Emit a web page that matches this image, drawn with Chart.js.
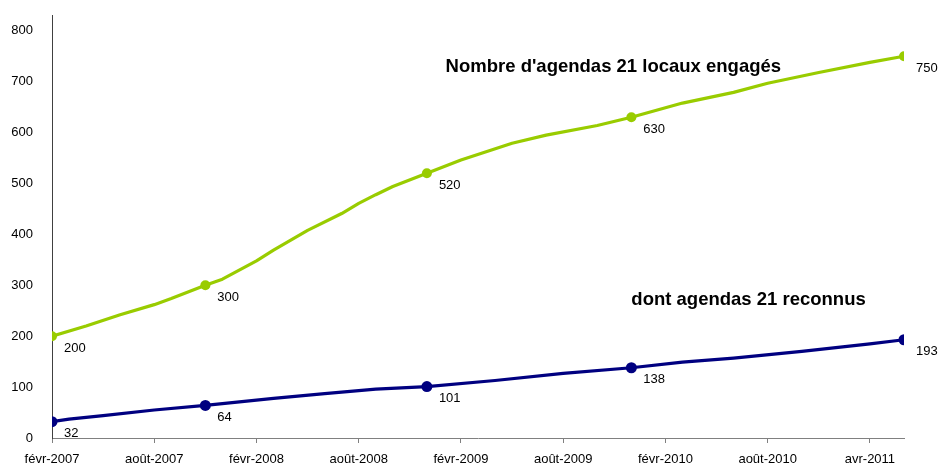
<!DOCTYPE html>
<html>
<head>
<meta charset="utf-8">
<script src="https://cdn.jsdelivr.net/npm/chart.js@4/dist/chart.umd.min.js"></script>
<style>
  html, body { margin: 0; padding: 0; background: #fff; }
  #wrap { width: 938px; height: 463px; }
</style>
</head>
<body>
<div id="wrap"><canvas id="chart"></canvas></div>
<script>
// months counted from févr-2007
const tickMonths = [0, 6, 12, 18, 24, 30, 36, 42, 48];
const tickLabels = ["févr-2007", "août-2007", "févr-2008", "août-2008", "févr-2009", "août-2009", "févr-2010", "août-2010", "avr-2011"];
const yTicks = [0, 100, 200, 300, 400, 500, 600, 700, 800];

const monthsEngages = [0, 2, 4, 6, 7, 9, 10, 12, 13, 15, 17, 18, 19, 20, 22, 24, 27, 29, 32, 34, 37, 40, 42, 45, 48, 50];
const valuesEngages = [200, 220, 242, 262, 274, 300, 312, 348, 369, 408, 441, 461, 478, 494, 520, 546, 579, 595, 614, 630, 658, 679, 697, 718, 738, 750];

const monthsReconnus = [0, 1, 3, 6, 9, 13, 16, 19, 22, 26, 30, 34, 37, 40, 44, 48, 50];
const valuesReconnus = [32, 37, 44, 55, 64, 78, 87, 96, 101, 113, 127, 138, 149, 157, 170, 185, 193];

const labeledMonths = [0, 9, 22, 34, 50];

function toPoints(xs, ys){
    return xs.map((x, i) => ({x: x, y: ys[i]}));
}

const valueLabels = {
    id: 'valueLabels',
    afterDatasetsDraw(chart){
        const c = chart.ctx;
        c.save();
        c.font = '13px "Liberation Sans", Arial, sans-serif';
        c.fillStyle = '#000';
        c.textAlign = 'left';
        c.textBaseline = 'middle';
        chart.data.datasets.forEach((ds, di) => {
            const meta = chart.getDatasetMeta(di);
            ds.data.forEach((p, i) => {
                if (!labeledMonths.includes(p.x)) return;
                const el = meta.data[i];
                c.fillText(String(p.y), el.x + 12, el.y + 12);
            });
        });
        // series titles
        const xs = chart.scales.x, ys = chart.scales.y;
        c.font = 'bold 18.5px "Liberation Sans", Arial, sans-serif';
        c.fillText("Nombre d'agendas 21 locaux engagés", xs.getPixelForValue(23.1), ys.getPixelForValue(729));
        c.fillText("dont agendas 21 reconnus", xs.getPixelForValue(34), ys.getPixelForValue(271));
        c.restore();
    }
};

Chart.defaults.font.family = '"Liberation Sans", Arial, sans-serif';
Chart.defaults.font.size = 13;
Chart.defaults.color = '#000';

new Chart(document.getElementById('chart').getContext('2d'), {
    type: 'line',
    data: {
        datasets: [
            {
                label: "Nombre d'agendas 21 locaux engagés",
                data: toPoints(monthsEngages, valuesEngages),
                borderColor: '#99CC00',
                backgroundColor: '#99CC00',
                borderWidth: 3.2,
                borderJoinStyle: 'round',
                pointRadius: ctx => labeledMonths.includes(ctx.raw.x) ? 5 : 0,
                pointBorderWidth: 0,
                tension: 0
            },
            {
                label: "dont agendas 21 reconnus",
                data: toPoints(monthsReconnus, valuesReconnus),
                borderColor: '#000080',
                backgroundColor: '#000080',
                borderWidth: 3.2,
                borderJoinStyle: 'round',
                pointRadius: ctx => labeledMonths.includes(ctx.raw.x) ? 5.5 : 0,
                pointBorderWidth: 0,
                tension: 0
            }
        ]
    },
    options: {
        responsive: true,
        maintainAspectRatio: false,
        animation: false,
        layout: { padding: { top: 15, right: 34, left: 0, bottom: 0 } },
        plugins: {
            legend: { display: false },
            tooltip: { enabled: false }
        },
        scales: {
            x: {
                type: 'linear',
                min: 0,
                max: 50,
                afterBuildTicks: (s) => { s.ticks = tickMonths.map(v => ({value: v})); },
                afterFit: (s) => { s.height = 25; },
                ticks: {
                    autoSkip: false,
                    maxRotation: 0,
                    padding: 9,
                    callback: (v) => tickLabels[tickMonths.indexOf(v)]
                },
                grid: { drawOnChartArea: false, drawTicks: true, tickLength: 5, color: '#808080' },
                border: { display: true, color: '#808080', width: 1 }
            },
            y: {
                min: 0,
                max: 831,
                afterBuildTicks: (s) => { s.ticks = yTicks.map(v => ({value: v})); },
                afterFit: (s) => { s.width = 52; },
                ticks: { padding: 3 },
                grid: { drawOnChartArea: false, drawTicks: true, tickLength: 16, tickColor: 'rgba(0,0,0,0)' },
                border: { display: true, color: '#404040', width: 1 }
            }
        }
    },
    plugins: [valueLabels]
});
</script>
</body>
</html>
